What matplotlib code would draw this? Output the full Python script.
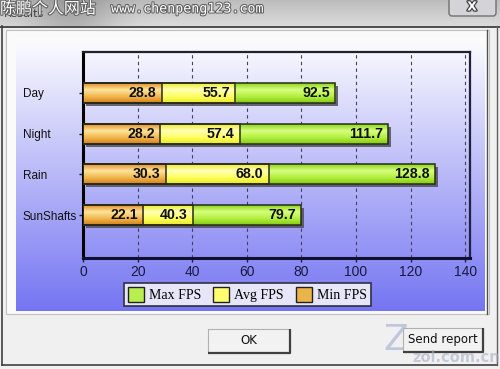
import numpy as np
import matplotlib
matplotlib.use('Agg')
import matplotlib.pyplot as plt
from matplotlib import transforms
from matplotlib.patches import Rectangle, FancyBboxPatch, Patch
from matplotlib.colors import LinearSegmentedColormap
import matplotlib.patheffects as pe

scenes = ['Day', 'Night', 'Rain', 'SunShafts']
max_fps = [92.5, 111.7, 128.8, 79.7]
avg_fps = [55.7, 57.4, 68.0, 40.3]
min_fps = [28.8, 28.2, 30.3, 22.1]
x_ticks = [0, 20, 40, 60, 80, 100, 120, 140]
legend_labels = ['Max FPS', 'Avg FPS', 'Min FPS']

W, H = 500, 369

# vertical gradients (top -> highlight -> bottom)
GREEN = ['#8cd41c', '#d8ff80', '#b4f040', '#84cc14']
YELLOW = ['#ecec30', '#ffffb8', '#ffff60', '#e8e828']
ORANGE = ['#e09028', '#ffe49c', '#f0b850', '#d88018']


def gradient(colors, n=64):
    cmap = LinearSegmentedColormap.from_list('g', colors)
    return cmap(np.linspace(0, 1, n))[:, None, :]


def button(ax, x0, y0, x1, y1, label):
    ax.add_patch(Rectangle((x0, y0), x1 - x0, y1 - y0, facecolor='#f2f2f2',
                           edgecolor='#b0b0b0', lw=0.8, zorder=5))
    ax.plot([x1, x1, x0], [y0, y1, y1], color='#404040', lw=1.6, zorder=6,
            solid_capstyle='butt')
    ax.text((x0 + x1) / 2, (y0 + y1) / 2, label, ha='center', va='center',
            fontsize=8.5, family='DejaVu Sans', color='#101010', zorder=7)


fig = plt.figure(figsize=(5, 3.69), dpi=100)

# dialog chrome, in pixel coordinates
bg = fig.add_axes([0, 0, 1, 1])
bg.set_xlim(0, W)
bg.set_ylim(H, 0)
bg.axis('off')

title = np.linspace(0, 1, 32)[:, None] * np.ones((1, 100))
shade = 1 - 0.18 * np.exp(-((np.linspace(0, W, 100) - 70) / 45) ** 2)
title_rgb = np.dstack([(0.74 + 0.12 * title) * shade] * 3)
bg.imshow(title_rgb, extent=(0, W, 26, 0), aspect='auto', zorder=1)
bg.add_patch(Rectangle((0, 26), W, H - 26, facecolor='#f0f0f0', edgecolor='none', zorder=1))
bg.plot([0, W], [26.5, 26.5], color='#303030', lw=1.2, zorder=2)
bg.plot([2, 2], [26, 365], color='#404040', lw=1.2, zorder=2)
bg.plot([2, 497], [365, 365], color='#404040', lw=1.2, zorder=2)
bg.plot([497, 497], [26, 365], color='#606060', lw=1.0, zorder=2)
bg.add_patch(Rectangle((6, 30), 483, 284, facecolor='#fafafa', edgecolor='#c0c0c0', lw=0.8, zorder=2))
bg.plot([487, 487], [30, 314], color='#505050', lw=1.0, zorder=2)

# chart background gradient
panel = np.linspace(0, 1, 128)[:, None]
top = np.array([0.99, 0.99, 1.0])
bottom = np.array([0.46, 0.46, 0.95])
panel_rgb = (top + (bottom - top) * panel)[:, None, :] * np.ones((1, 2, 1))
bg.imshow(panel_rgb, extent=(16, 485, 311, 38), aspect='auto', zorder=3)

# title text and watermark
bg.text(4, 14, 'Results', fontsize=8, color='#404040', va='center', zorder=4)
wm = [pe.withStroke(linewidth=1.5, foreground='#606060')]
bg.text(0, 9, '陈鹏个人网站', fontsize=11.5, color='white', va='center',
        family=['Noto Sans CJK SC', 'DejaVu Sans'], zorder=5, path_effects=wm)
bg.text(111, 9, 'www.chenpeng123.com', fontsize=9.6, color='white', va='center',
        family='DejaVu Sans Mono', zorder=5, path_effects=wm)

# close button
bg.add_patch(FancyBboxPatch((449, -4), 47, 20, boxstyle='round,pad=0,rounding_size=3',
                            facecolor='#d4d4d8', edgecolor='#707070', lw=1, zorder=4))
bg.text(472, 7, 'X', fontsize=9, fontweight='bold', color='white', ha='center',
        va='center', zorder=5, path_effects=[pe.withStroke(linewidth=1.8, foreground='#404040')])

# zol watermark
bg.text(396, 340, 'Z', fontsize=26, color='#7888c0', alpha=0.4,
        ha='center', va='center', zorder=4)
button(bg, 208, 329, 290, 353, 'OK')
button(bg, 403, 328, 483, 352, 'Send report')
bg.text(456, 357, 'zol.com.cn', fontsize=10.5, fontweight='bold', color='#a8b0c8', alpha=0.6,
        ha='center', va='center', zorder=8)

# chart
ax = fig.add_axes([83 / W, 1 - 258 / H, (470 - 83) / W, (258 - 52) / H])
ax.patch.set_alpha(0)
ax.set_zorder(2)
pos = np.arange(len(scenes))
h = 0.49

shadow = ax.transData + transforms.ScaledTranslation(3 / 100, -3 / 100, fig.dpi_scale_trans)
ax.barh(pos, max_fps, height=h, color='#505058', alpha=0.85, transform=shadow, zorder=2)

for vals, cols in [(max_fps, GREEN), (avg_fps, YELLOW), (min_fps, ORANGE)]:
    img = gradient(cols)
    for y, v in zip(pos, vals):
        ax.imshow(img, extent=(0, v, y + h / 2, y - h / 2), origin='upper',
                  aspect='auto', interpolation='bilinear', zorder=3)
    ax.barh(pos, vals, height=h, fill=False, edgecolor='#2a2a1a', lw=1.1, zorder=4)
    for y, v in zip(pos, vals):
        ax.annotate(f'{v:.1f}', xy=(v, y), xytext=(-5, 0), textcoords='offset pixels',
                    ha='right', va='center', fontsize=10.2, fontweight='bold',
                    family='Liberation Sans', color='#101010', zorder=5)

ax.set_xlim(0, 141.8)
ax.set_ylim(4.05, -1.0)
ax.set_xticks(x_ticks)
ax.set_xticklabels([str(t) for t in x_ticks], family=['Liberation Sans Narrow', 'Liberation Sans'],
                   fontsize=10, color='#1a1a40')
ax.set_yticks(pos)
ax.set_yticklabels(scenes, fontsize=8.5, family='Liberation Sans', color='#101010')
for lbl in ax.get_yticklabels():
    lbl.set_horizontalalignment('left')
ax.tick_params(axis='y', direction='out', length=3, width=1, color='#202020', pad=40.5)
ax.tick_params(axis='x', direction='out', length=3, width=1, color='#202040', pad=2)
ax.xaxis.grid(True, linestyle=(0, (3, 3)), color='#404060', lw=0.8)
ax.set_axisbelow(True)
ax.spines['left'].set_linewidth(2.2)
ax.spines['left'].set_color('#000000')
ax.spines['bottom'].set_linewidth(2.2)
ax.spines['bottom'].set_color('#101030')
ax.spines['top'].set_linewidth(1.6)
ax.spines['top'].set_color('#202030')
ax.spines['right'].set_linewidth(1.6)
ax.spines['right'].set_color('#202040')

handles = [Patch(facecolor='#b8ee50', edgecolor='#202020'),
           Patch(facecolor='#ffff70', edgecolor='#202020'),
           Patch(facecolor='#eab448', edgecolor='#202020')]
leg = ax.legend(handles, legend_labels, ncol=3, loc='center',
                bbox_to_anchor=(247.5 / W, 1 - 294.5 / H), bbox_transform=fig.transFigure,
                prop={'family': 'Liberation Serif', 'size': 10}, frameon=True, fancybox=False,
                edgecolor='#303040', facecolor='#e6e6f8', framealpha=1,
                handlelength=1.15, handleheight=1.3, handletextpad=0.35,
                columnspacing=0.9, borderpad=0.25, borderaxespad=0)
leg.get_frame().set_linewidth(1.2)

fig.savefig('out.png', dpi=100)
